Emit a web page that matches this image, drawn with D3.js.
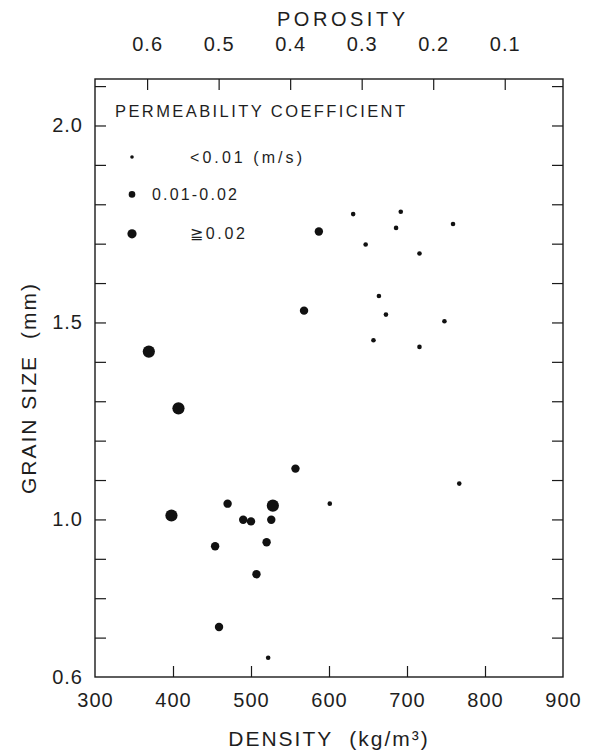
<!DOCTYPE html>
<html>
<head>
<meta charset="utf-8">
<script src="https://cdn.jsdelivr.net/npm/d3@7"></script>
<style>
  body { margin: 0; background: #fff; }
  svg text { font-family: "Liberation Sans", Arial, sans-serif; fill: #1e1e1e; }
</style>
</head>
<body>
<div id="chart"></div>
<script>
// Grain size vs density, symbol size = permeability class

// data
const density = [631, 692, 686, 759, 647, 716, 664, 673, 748, 657, 716,
                 587, 568, 369, 407, 398, 557, 470, 528, 490, 500, 526,
                 454, 520, 507, 459, 522, 767, 601];
const grainSize = [1.775, 1.781, 1.740, 1.750, 1.698, 1.675, 1.567, 1.520, 1.503, 1.455, 1.438,
                   1.731, 1.530, 1.426, 1.282, 1.010, 1.129, 1.040, 1.035, 0.999, 0.995, 0.999,
                   0.932, 0.942, 0.861, 0.727, 0.649, 1.091, 1.040];
// 0: <0.01, 1: 0.01-0.02, 2: >=0.02
const permClass = [0, 0, 0, 0, 0, 0, 0, 0, 0, 0, 0,
                   1, 1, 2, 2, 2, 1, 1, 2, 1, 1, 1,
                   1, 1, 1, 1, 0, 0, 0];

const legendLabels = ["<0.01 (m/s)", "0.01-0.02", "\u22670.02"];
const densityTicks = [300, 400, 500, 600, 700, 800, 900];
const grainTicks = [0.7, 0.8, 0.9, 1.0, 1.1, 1.2, 1.3, 1.4, 1.5, 1.6, 1.7, 1.8, 1.9, 2.0, 2.1];
const grainLabels = [0.6, 1.0, 1.5, 2.0];
const porosityTicks = [0.6, 0.5, 0.4, 0.3, 0.2, 0.1];
const iceDensity = 917;

{
    const W = 594, H = 753;
    const margin = { top: 79, right: 31, bottom: 76, left: 95 };
    const width = W - margin.left - margin.right;
    const height = H - margin.top - margin.bottom;
    const ink = "#1a1a1a";

    const svg = d3.select("#chart").append("svg")
        .attr("width", W).attr("height", H);
    const g = svg.append("g")
        .attr("transform", `translate(${margin.left},${margin.top})`);

    const x = d3.scaleLinear().domain([300, 900]).range([0, width]);
    const y = d3.scaleLinear().domain([0.6, 2.118]).range([height, 0]);
    // porosity = 1 - density / ice density
    const xPor = d3.scaleLinear()
        .domain([1 - 300 / iceDensity, 1 - 900 / iceDensity])
        .range([0, width]);

    const tick = 11;

    // bottom axis (ticks point inward)
    const xAxis = g.append("g").attr("transform", `translate(0,${height})`)
        .call(d3.axisBottom(x).tickValues(densityTicks).tickSize(-tick).tickPadding(16));
    xAxis.selectAll("text").attr("font-size", "20px").attr("letter-spacing", "1px");
    xAxis.selectAll(".tick").filter(d => d === 300 || d === 900).select("line").remove();

    // left axis
    g.append("g")
        .call(d3.axisLeft(y).tickValues(grainTicks).tickSize(-tick).tickFormat(() => ""));
    g.append("g")
        .call(d3.axisLeft(y).tickValues(grainLabels).tickSize(0).tickPadding(12)
            .tickFormat(d3.format(".1f")))
        .selectAll("text").attr("font-size", "20px").attr("letter-spacing", "1px");

    // right axis, ticks only
    g.append("g").attr("transform", `translate(${width},0)`)
        .call(d3.axisRight(y).tickValues(grainTicks).tickSize(-tick).tickFormat(() => ""));

    // top porosity axis
    const topAxis = g.append("g")
        .call(d3.axisTop(xPor).tickValues(porosityTicks).tickSize(-tick).tickPadding(28)
            .tickFormat(d3.format(".1f")));
    topAxis.selectAll("text").attr("font-size", "20px").attr("letter-spacing", "1px");

    g.selectAll(".domain").remove();
    g.selectAll(".tick line").attr("stroke", ink).attr("stroke-width", 1.2);
    g.selectAll(".tick text").attr("fill", "#1e1e1e");

    // frame
    g.append("rect")
        .attr("width", width).attr("height", height)
        .attr("fill", "none").attr("stroke", ink).attr("stroke-width", 1.4);

    // points
    const dataRadius = [2.3, 4.2, 6.1];
    const pts = density.map((d, i) => ({ d, s: grainSize[i], c: permClass[i] }));
    g.selectAll(".pt").data(pts).enter().append("circle")
        .attr("class", "pt")
        .attr("cx", p => x(p.d))
        .attr("cy", p => y(p.s))
        .attr("r", p => dataRadius[p.c])
        .attr("fill", "#111");

    // legend
    const legendRadius = [1.8, 3.3, 4.6];
    const legendRowY = [1.92, 1.825, 1.725];
    const legendTextX = [95, 57, 95];
    const legendTextLen = [112, 85, 55];
    g.append("text")
        .attr("x", 20).attr("y", y(2.035) + 5)
        .attr("font-size", "16.5px")
        .attr("textLength", 290).attr("lengthAdjust", "spacing")
        .text("PERMEABILITY COEFFICIENT");
    legendLabels.forEach((lab, i) => {
        g.append("circle")
            .attr("cx", 37).attr("cy", y(legendRowY[i]))
            .attr("r", legendRadius[i]).attr("fill", "#111");
        g.append("text")
            .attr("x", legendTextX[i]).attr("y", y(legendRowY[i]) + 5.5)
            .attr("font-size", "16px")
            .attr("textLength", legendTextLen[i]).attr("lengthAdjust", "spacing")
            .text(lab);
    });

    // axis titles
    svg.append("text")
        .attr("x", 341).attr("y", 26)
        .attr("text-anchor", "middle")
        .attr("font-size", "20px")
        .attr("textLength", 128).attr("lengthAdjust", "spacing")
        .text("POROSITY");

    const dens = svg.append("text")
        .attr("x", margin.left + x(600)).attr("y", 746)
        .attr("text-anchor", "middle")
        .attr("font-size", "21px")
        .attr("letter-spacing", "2px");
    dens.append("tspan").text("DENSITY");
    dens.append("tspan").attr("dx", 16).text("(kg/m\u00b3)");

    const gs = svg.append("text")
        .attr("transform", `translate(36,388) rotate(-90)`)
        .attr("text-anchor", "middle")
        .attr("font-size", "21px")
        .attr("letter-spacing", "2px");
    gs.append("tspan").text("GRAIN SIZE");
    gs.append("tspan").attr("dx", 16).text("(mm)");
}
</script>
</body>
</html>
